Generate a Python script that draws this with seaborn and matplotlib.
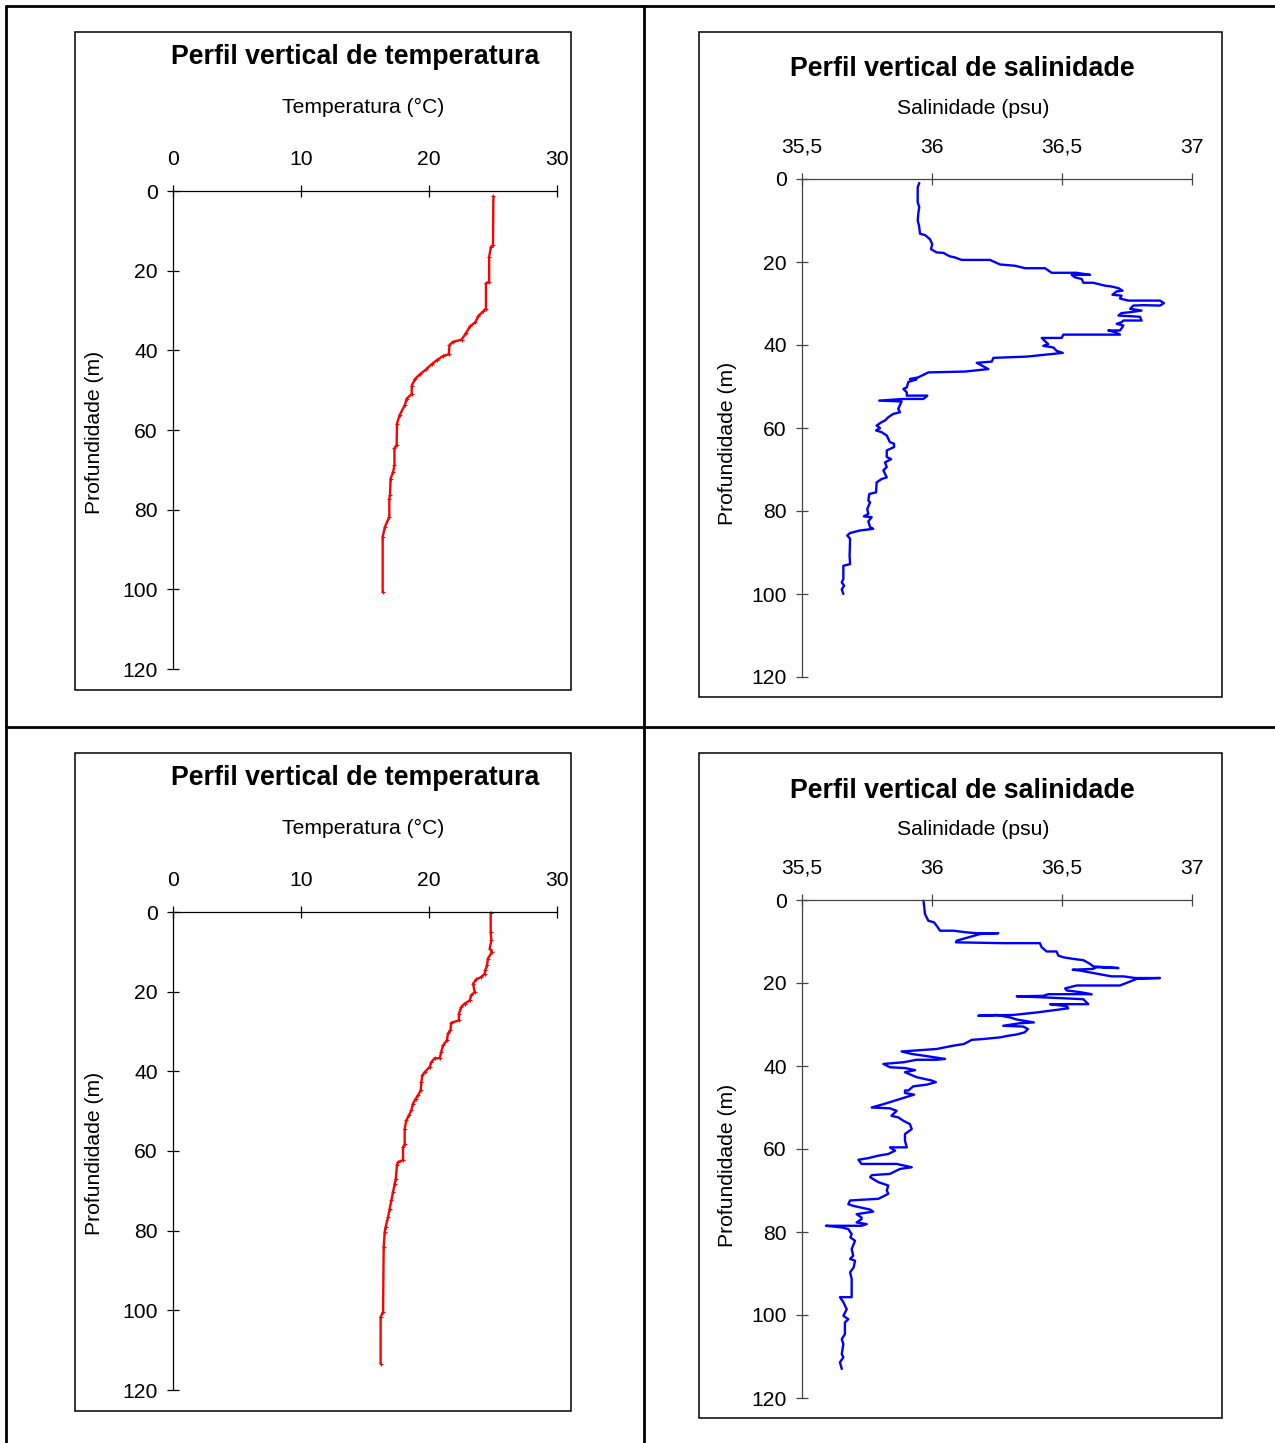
import matplotlib
matplotlib.use("Agg")
import matplotlib.pyplot as plt
from matplotlib.lines import Line2D
from matplotlib.patches import Rectangle
import seaborn as sns
import pandas as pd

# ---- profile data (station 1 and station 2) ----
temp1_c = [25.03, 25.0, 24.84, 24.7, 24.7, 24.45, 24.45, 24.24, 23.86, 23.6, 23.2, 22.9,
           22.55, 21.85, 21.6, 21.55, 21.1, 20.6, 20.2, 19.8, 19.3, 18.9, 18.65, 18.65,
           18.26, 18.1, 17.7, 17.5, 17.47, 17.3, 17.3, 17.2, 17.0, 16.95, 16.9, 16.9,
           16.56, 16.38, 16.38]
depth_t1 = [1.3, 13.6, 14.0, 16.5, 22.8, 23.2, 29.5, 30.2, 31.4, 33.0, 34.0, 35.6,
            37.3, 37.9, 38.7, 41.0, 41.4, 42.5, 43.5, 44.7, 46.0, 47.2, 48.9, 51.0,
            52.1, 53.8, 56.3, 58.4, 63.8, 64.6, 68.8, 70.5, 72.2, 76.4, 77.2, 81.8,
            84.3, 86.8, 100.6]

sal1_psu = [35.951, 35.945, 35.945, 35.951, 35.948, 35.945, 35.950, 35.954, 35.973, 35.992,
            36.001, 35.996, 36.018, 36.044, 36.067, 36.088, 36.114, 36.223, 36.262, 36.319,
            36.358, 36.435, 36.46, 36.556, 36.608, 36.537, 36.55, 36.576, 36.582, 36.62,
            36.665, 36.69, 36.717, 36.733, 36.71, 36.694, 36.729, 36.723, 36.755, 36.877,
            36.892, 36.877, 36.813, 36.774, 36.762, 36.806, 36.762, 36.729, 36.717, 36.8,
            36.806, 36.736, 36.729, 36.71, 36.736, 36.729, 36.723, 36.678, 36.704, 36.723,
            36.505, 36.499, 36.422, 36.447, 36.428, 36.467, 36.479, 36.503, 36.364, 36.236,
            36.23, 36.172, 36.217, 36.127, 35.986, 35.947, 35.915, 35.94, 35.909, 35.903,
            35.89, 35.903, 35.903, 35.982, 35.967, 35.89, 35.797, 35.883, 35.87, 35.877,
            35.851, 35.832, 35.819, 35.806, 35.787, 35.8, 35.785, 35.806, 35.826, 35.838,
            35.854, 35.854, 35.826, 35.826, 35.843, 35.819, 35.826, 35.813, 35.826, 35.806,
            35.787, 35.785, 35.759, 35.755, 35.762, 35.751, 35.755, 35.738, 35.768, 35.755,
            35.762, 35.774, 35.723, 35.685, 35.674, 35.685, 35.683, 35.685, 35.659, 35.659,
            35.653, 35.662, 35.653, 35.659]
depth_s1 = [0.96, 2.0, 5.6, 6.8, 8.0, 10.0, 11.2, 13.2, 13.5, 14.5,
            15.7, 16.9, 17.7, 17.8, 18.6, 18.9, 19.5, 19.5, 20.6, 20.9,
            21.5, 21.5, 22.6, 22.6, 23.1, 23.1, 23.7, 24.1, 25.0, 25.0,
            25.7, 25.9, 26.3, 26.9, 27.1, 27.9, 28.1, 28.8, 29.3, 29.3,
            29.9, 30.5, 30.4, 30.5, 31.3, 31.7, 32.1, 32.3, 32.9, 33.2,
            34.1, 34.1, 34.5, 34.9, 35.3, 36.0, 36.5, 36.5, 36.9, 37.5,
            37.5, 38.3, 38.3, 39.8, 40.2, 40.6, 41.4, 41.9, 42.8, 43.1,
            44.0, 44.3, 45.8, 46.4, 46.6, 47.8, 48.2, 48.3, 48.9, 50.2,
            50.6, 51.4, 52.2, 52.2, 53.0, 53.0, 53.4, 53.6, 55.4, 56.2,
            56.6, 57.4, 58.2, 58.6, 59.4, 60.0, 60.6, 61.0, 61.8, 63.4,
            63.8, 64.6, 65.4, 67.0, 67.5, 68.3, 69.4, 70.2, 71.9, 72.3,
            73.1, 75.5, 75.9, 77.5, 77.9, 79.5, 80.7, 81.3, 81.5, 82.5,
            83.9, 84.3, 84.7, 85.3, 85.9, 86.7, 90.8, 92.8, 93.2, 96.4,
            97.2, 98.0, 98.9, 100.0]

temp2_c = [24.82, 24.82, 24.87, 24.74, 24.92, 24.6, 24.53, 24.4, 24.35, 24.09, 23.7, 23.44,
           23.57, 23.3, 23.18, 22.79, 22.53, 22.34, 22.34, 21.74, 21.67, 21.48, 21.4, 21.09,
           20.96, 20.83, 20.44, 20.18, 20.05, 19.66, 19.48, 19.4, 19.35, 19.14, 18.96, 18.75,
           18.62, 18.44, 18.23, 18.1, 18.1, 17.97, 17.97, 17.58, 17.5, 17.4, 17.32, 17.19,
           17.06, 16.93, 16.8, 16.61, 16.54, 16.46, 16.41, 16.22, 16.22]
depth_t2 = [0.2, 5.0, 7.1, 9.2, 10.0, 11.7, 13.4, 14.6, 15.5, 16.3, 16.9, 18.0,
            20.1, 20.9, 22.2, 23.0, 23.8, 25.5, 27.2, 27.8, 29.7, 30.5, 32.2, 33.5,
            35.1, 36.7, 36.7, 37.7, 38.9, 40.2, 41.0, 42.7, 44.8, 46.0, 46.9, 48.1,
            49.8, 51.0, 52.3, 54.4, 58.2, 59.0, 62.3, 62.8, 63.6, 67.0, 68.2, 70.3,
            72.4, 74.5, 76.6, 79.1, 80.3, 84.1, 100.4, 101.7, 113.4]

sal2_psu = [35.967, 35.969, 35.973, 35.986, 36.008, 36.018, 36.031, 36.082, 36.133, 36.172,
            36.255, 36.185, 36.095, 36.092, 36.274, 36.415, 36.422, 36.441, 36.479, 36.486,
            36.505, 36.544, 36.582, 36.608, 36.62, 36.717, 36.633, 36.62, 36.541, 36.569,
            36.69, 36.736, 36.781, 36.877, 36.788, 36.723, 36.556, 36.512, 36.518, 36.569,
            36.614, 36.447, 36.428, 36.326, 36.441, 36.582, 36.601, 36.454, 36.518, 36.524,
            36.403, 36.313, 36.178, 36.249, 36.3, 36.326, 36.392, 36.338, 36.274, 36.351,
            36.369, 36.356, 36.326, 36.294, 36.262, 36.197, 36.153, 36.123, 36.082, 36.018,
            35.973, 35.883, 35.922, 35.967, 36.05, 36.018, 35.941, 35.89, 35.813, 35.838,
            35.896, 35.935, 35.896, 35.941, 35.999, 36.015, 35.979, 35.928, 35.909, 35.896,
            35.896, 35.931, 35.813, 35.768, 35.838, 35.864, 35.844, 35.871, 35.89, 35.915,
            35.922, 35.896, 35.896, 35.903, 35.838, 35.858, 35.832, 35.794, 35.755, 35.717,
            35.729, 35.864, 35.922, 35.877, 35.838, 35.768, 35.762, 35.794, 35.832, 35.826,
            35.832, 35.794, 35.685, 35.678, 35.697, 35.762, 35.774, 35.71, 35.729, 35.729,
            35.71, 35.749, 35.729, 35.592, 35.653, 35.678, 35.691, 35.686, 35.704, 35.699,
            35.691, 35.697, 35.685, 35.704, 35.699, 35.685, 35.691, 35.691, 35.646, 35.659,
            35.672, 35.659, 35.678, 35.665, 35.665, 35.653, 35.659, 35.653, 35.659, 35.646,
            35.653]
depth_s2 = [0.16, 1.0, 3.4, 5.0, 5.4, 6.2, 7.4, 7.4, 7.8, 8.0,
            8.0, 8.2, 9.8, 10.2, 10.4, 10.4, 11.4, 12.4, 12.4, 13.4,
            13.8, 14.2, 14.5, 15.4, 16.0, 16.4, 16.2, 16.6, 16.8, 17.0,
            18.4, 18.4, 18.8, 18.8, 19.0, 20.6, 20.6, 21.3, 21.8, 22.2,
            22.7, 22.7, 23.1, 23.2, 23.5, 23.9, 25.1, 25.1, 25.6, 26.1,
            27.1, 27.7, 27.9, 27.7, 28.3, 28.8, 29.5, 29.7, 30.3, 30.5,
            31.1, 31.9, 32.4, 32.7, 33.1, 33.5, 33.7, 34.7, 35.1, 35.9,
            36.1, 36.5, 37.1, 37.5, 38.3, 38.5, 38.5, 39.1, 39.5, 40.3,
            40.5, 41.0, 41.5, 42.7, 43.5, 43.9, 44.5, 44.9, 45.9, 45.9,
            46.5, 46.9, 49.2, 50.0, 50.2, 50.8, 52.0, 52.4, 53.2, 54.0,
            55.2, 56.4, 58.0, 59.6, 59.6, 60.4, 61.2, 61.6, 62.2, 62.6,
            63.6, 63.6, 64.4, 64.8, 66.0, 66.3, 66.8, 68.0, 68.8, 70.0,
            70.8, 72.0, 72.4, 73.3, 73.7, 74.6, 75.1, 75.7, 76.5, 76.9,
            77.7, 78.1, 78.5, 78.5, 78.9, 79.3, 80.5, 81.3, 82.1, 82.9,
            84.1, 85.7, 86.5, 86.9, 88.5, 89.7, 91.3, 95.7, 95.7, 96.9,
            98.6, 100.2, 101.0, 101.8, 104.6, 105.8, 107.0, 109.4, 110.2, 111.4,
            113.0]

temp_ticks = [0, 10, 20, 30]
temp_tick_labels = ["0", "10", "20", "30"]
sal_ticks = [35.5, 36.0, 36.5, 37.0]
sal_tick_labels = ["35,5", "36", "36,5", "37"]
depth_ticks = [0, 20, 40, 60, 80, 100, 120]
depth_tick_labels = ["0", "20", "40", "60", "80", "100", "120"]

title_temp = "Perfil vertical de temperatura"
title_sal = "Perfil vertical de salinidade"
xlabel_temp = "Temperatura (°C)"
xlabel_sal = "Salinidade (psu)"
ylabel_depth = "Profundidade (m)"

# ---- figure ----
W, H = 1275, 1443
sns.set_style("white")
plt.rcParams["font.family"] = ["Liberation Sans", "DejaVu Sans"]
plt.rcParams["text.color"] = "black"
plt.rcParams["axes.labelcolor"] = "black"
plt.rcParams["xtick.color"] = "black"
plt.rcParams["ytick.color"] = "black"
plt.rcParams["xtick.labelcolor"] = "black"
plt.rcParams["ytick.labelcolor"] = "black"

fig = plt.figure(figsize=(W / 100, H / 100), dpi=100)


def fx(x):
    return x / W


def fy(y):
    return 1 - y / H


def add_axes_px(left, top, right, bottom):
    return fig.add_axes([fx(left), fy(bottom), (right - left) / W, (bottom - top) / H])


LBL = 15.2
TITLE = 19.3


def style_axes(ax, xlim, xticks, xticklabels, spine_color):
    ax.set_xlim(*xlim)
    ax.set_ylim(120, 0)
    ax.set_facecolor("none")
    for s in ("right", "bottom"):
        ax.spines[s].set_visible(False)
    for s in ("top", "left"):
        ax.spines[s].set_visible(True)
        ax.spines[s].set_color(spine_color)
        ax.spines[s].set_linewidth(0.9)
    ax.xaxis.set_ticks_position("top")
    ax.xaxis.set_label_position("top")
    ax.yaxis.set_ticks_position("left")
    ax.set_xticks(xticks)
    ax.set_xticklabels(xticklabels)
    ax.set_yticks(depth_ticks)
    ax.set_yticklabels(depth_tick_labels)
    ax.tick_params(axis="x", direction="inout", length=8, width=0.9,
                   color=spine_color, labelcolor="black", labelsize=LBL, pad=12)
    ax.tick_params(axis="y", direction="inout", length=8, width=0.9,
                   color=spine_color, labelcolor="black", labelsize=LBL, pad=7)
    ax.set_xlabel("")
    ax.set_ylabel("")
    ax.grid(False)


def panel(box, axpos, x, y, xlim, xticks, xticklabels, color, spine_color,
          title, title_xy, xlabel, xlabel_xy, ylabel_xy, marker):
    bl, bt, br, bb = box
    fig.add_artist(Rectangle((fx(bl), fy(bb)), (br - bl) / W, (bb - bt) / H,
                             transform=fig.transFigure, fill=False,
                             edgecolor="black", linewidth=1.1))
    ax = add_axes_px(*axpos)
    df = pd.DataFrame({"valor": x, "prof": y})
    sns.lineplot(data=df, x="valor", y="prof", sort=False, estimator=None,
                 ax=ax, color=color, linewidth=1.7, marker=marker,
                 markersize=2.5, markeredgecolor=color, clip_on=False)
    style_axes(ax, xlim, xticks, xticklabels, spine_color)
    fig.text(fx(title_xy[0]), fy(title_xy[1]), title, ha="center", va="center",
             fontsize=TITLE, fontweight="bold", color="black")
    fig.text(fx(xlabel_xy[0]), fy(xlabel_xy[1]), xlabel, ha="center", va="center",
             fontsize=LBL, color="black")
    fig.text(fx(ylabel_xy[0]), fy(ylabel_xy[1]), ylabel_depth, ha="center",
             va="center", rotation=90, fontsize=LBL, color="black")
    return ax


# top-left: temperature, station 1
panel((75, 32, 571, 690), (173, 191, 557, 669), temp1_c, depth_t1, (0, 30),
      temp_ticks, temp_tick_labels, "#ff0000", "black",
      title_temp, (355.5, 57), xlabel_temp, (363, 107), (94, 432), "+")
# top-right: salinity, station 1
panel((699, 32, 1222, 697), (802, 179, 1192, 677), sal1_psu, depth_s1, (35.5, 37.0),
      sal_ticks, sal_tick_labels, "#0000ff", "#444444",
      title_sal, (962.5, 69), xlabel_sal, (973, 109), (728, 443), None)
# bottom-left: temperature, station 2
panel((75, 753, 571, 1411), (173, 912, 557, 1390), temp2_c, depth_t2, (0, 30),
      temp_ticks, temp_tick_labels, "#ff0000", "black",
      title_temp, (355.5, 778), xlabel_temp, (363, 828), (94, 1153), "+")
# bottom-right: salinity, station 2
panel((699, 753, 1222, 1418), (802, 900, 1192, 1398), sal2_psu, depth_s2, (35.5, 37.0),
      sal_ticks, sal_tick_labels, "#0000ff", "#444444",
      title_sal, (962.5, 791), xlabel_sal, (973, 830), (728, 1165), None)

# table grid around the four panels
grid_kw = dict(transform=fig.transFigure, color="black", linewidth=2.0)
fig.add_artist(Line2D([fx(6), fx(1275)], [fy(6), fy(6)], **grid_kw))
fig.add_artist(Line2D([fx(6), fx(1275)], [fy(727), fy(727)], **grid_kw))
fig.add_artist(Line2D([fx(6), fx(6)], [fy(6), fy(1443)], **grid_kw))
fig.add_artist(Line2D([fx(644), fx(644)], [fy(6), fy(1443)], **grid_kw))

fig.savefig("out.png", dpi=100, facecolor="white")
